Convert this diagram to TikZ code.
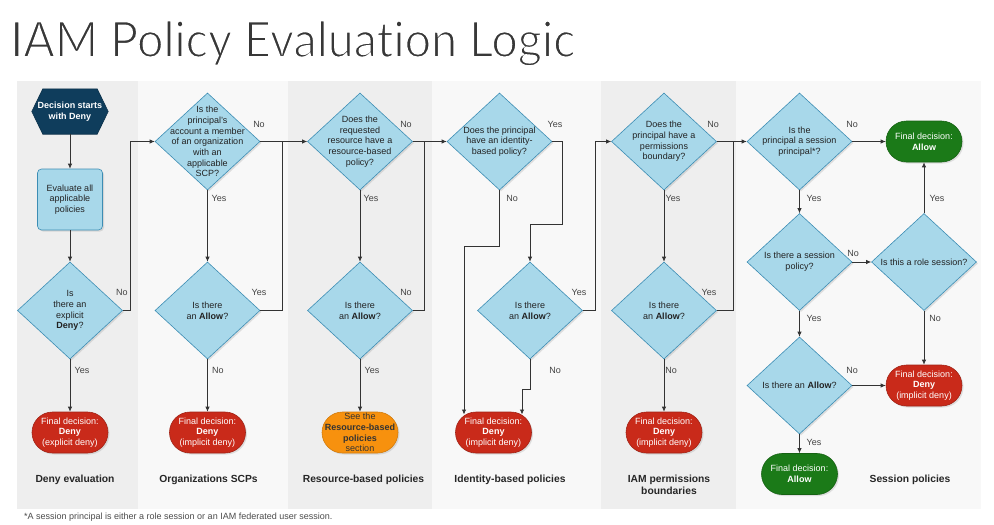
\documentclass[tikz,border=0pt]{standalone}
\usepackage{graphicx}
\usepackage{fontspec}
\setmainfont{Liberation Sans}
\newfontfamily\titlefont{Lato}[Ligatures={NoCommon}]
\usetikzlibrary{shapes.geometric,shapes.misc,arrows.meta,shadows,calc}
\definecolor{panelA}{HTML}{EEEEEE}
\definecolor{panelB}{HTML}{F8F8F8}
\definecolor{diafill}{HTML}{A8D8EA}
\definecolor{diaedge}{HTML}{3C8DB4}
\definecolor{navy}{HTML}{0F3D5C}
\definecolor{redf}{HTML}{C92A1A}
\definecolor{orangef}{HTML}{F7910E}
\definecolor{greenf}{HTML}{1B7A18}
\definecolor{linec}{HTML}{333333}
\definecolor{txt}{HTML}{222222}
\begin{document}
\begin{tikzpicture}[x=1pt,y=-1pt,
  every node/.style={font=\fontsize{9}{10.7}\selectfont, text=txt},
  shad/.style={drop shadow={opacity=0.22,shadow xshift=1.5pt,shadow yshift=-1.5pt}},
  dia/.style={diamond, draw=diaedge, fill=diafill, minimum width=105pt, minimum height=97pt, inner sep=0pt, line width=0.6pt, shad},
  dtext/.style={align=center, inner sep=0pt},
  final/.style={rounded rectangle, minimum width=76pt, minimum height=41pt, inner sep=0pt, line width=0.6pt, shad},
  redbox/.style={final, fill=redf, draw=redf!80!black},
  grnbox/.style={final, fill=greenf, draw=greenf!80!black},
  orgbox/.style={final, fill=orangef, draw=orangef!85!black},
  wtext/.style={align=center, inner sep=0pt, text=white},
  arr/.style={draw=linec, line width=0.8pt, -{Latex[length=5pt,width=4.5pt]}},
  ln/.style={draw=linec, line width=0.8pt},
  lab/.style={inner sep=0pt, text=txt!85},
  sec/.style={inner sep=0pt, align=center, font=\bfseries\fontsize{10.3}{12}\selectfont, text=black!85}
]
\useasboundingbox (0,0) rectangle (994,525);
\fill[white] (0,0) rectangle (994,525);
% panels
\fill[panelA] (17,81) rectangle (138,509);
\fill[panelB] (138,81) rectangle (288,509);
\fill[panelA] (288,81) rectangle (432,509);
\fill[panelB] (432,81) rectangle (601,509);
\fill[panelA] (601,81) rectangle (736,509);
\fill[panelB] (736,81) rectangle (981,509);

% title
\node[anchor=base west, inner sep=0pt, text=black!78] (title) at (10,57) {\resizebox{565pt}{36.5pt}{\fontsize{45}{50}\titlefont\special{pdf:literal direct 2 Tr 1 G 1.4 w}IAM Policy Evaluation Logic\special{pdf:literal direct 0 Tr}}};

% column 1
\node[inner sep=0pt, minimum width=76pt, minimum height=45pt] (hex) at (70,111.5) {};
\filldraw[fill=navy, draw=navy!80!black, line width=0.6pt] (hex.west) -- ($(hex.north west)+(11,0)$) -- ($(hex.north east)+(-11,0)$) -- (hex.east) -- ($(hex.south east)+(-11,0)$) -- ($(hex.south west)+(11,0)$) -- cycle;
\node[wtext, font=\bfseries\fontsize{9}{10.7}\selectfont] (hext) at (hex) {Decision starts\\with Deny};
\node[draw=diaedge, fill=diafill, rounded corners=4pt, minimum width=65pt, minimum height=61pt, align=center, inner sep=0pt, line width=0.6pt, shad] (eval) at (70,199.5) {Evaluate all\\applicable\\policies};
\node[dia] (c1) at (70,310.5) {};
\node[dtext] (c1t) at (c1) {Is\\there an\\explicit\\\textbf{Deny}?};
\node[redbox] (r1) at (70,432.5) {};
\node[wtext] (r1t) at (r1) {Final decision:\\\textbf{Deny}\\(explicit deny)};

% column 2
\node[dia] (c2a) at (207.5,141.5) {};
\node[dtext] (c2at) at (c2a) {Is the\\principal's\\account a member\\of an organization\\with an\\applicable\\SCP?};
\node[dia] (c2b) at (207.5,310.5) {};
\node[dtext] (c2bt) at (c2b) {Is there\\an \textbf{Allow}?};
\node[redbox] (r2) at (207.5,432.5) {};
\node[wtext] (r2t) at (r2) {Final decision:\\\textbf{Deny}\\(implicit deny)};

% column 3
\node[dia] (c3a) at (360,141.5) {};
\node[dtext] (c3at) at (c3a) {Does the\\requested\\resource have a\\resource-based\\policy?};
\node[dia] (c3b) at (360,310.5) {};
\node[dtext] (c3bt) at (c3b) {Is there\\an \textbf{Allow}?};
\node[orgbox] (o3) at (360,432.5) {};
\node[dtext, text=black!80] (o3t) at (o3) {See the\\\textbf{Resource-based}\\\textbf{policies}\\section};

% column 4
\node[dia] (c4a) at (499.5,141.5) {};
\node[dtext] (c4at) at (c4a) {Does the principal\\have an identity-\\based policy?};
\node[dia] (c4b) at (530,310.5) {};
\node[dtext] (c4bt) at (c4b) {Is there\\an \textbf{Allow}?};
\node[redbox] (r4) at (493.5,432.5) {};
\node[wtext] (r4t) at (r4) {Final decision:\\\textbf{Deny}\\(implicit deny)};

% column 5
\node[dia] (c5a) at (664,141.5) {};
\node[dtext] (c5at) at (c5a) {Does the\\principal have a\\permissions\\boundary?};
\node[dia] (c5b) at (664,310.5) {};
\node[dtext] (c5bt) at (c5b) {Is there\\an \textbf{Allow}?};
\node[redbox] (r5) at (664,432.5) {};
\node[wtext] (r5t) at (r5) {Final decision:\\\textbf{Deny}\\(implicit deny)};

% column 6
\node[dia] (c6a) at (799.5,141.5) {};
\node[dtext] (c6at) at (c6a) {Is the\\principal a session\\principal*?};
\node[grnbox] (g1) at (924,141.5) {};
\node[wtext] (g1t) at (g1) {Final decision:\\\textbf{Allow}};
\node[dia] (c6b) at (799.5,262) {};
\node[dtext] (c6bt) at (c6b) {Is there a session\\policy?};
\node[dia] (c6c) at (924,262) {};
\node[dtext] (c6ct) at (c6c) {Is this a role session?};
\node[dia] (c6d) at (799.5,385.5) {};
\node[dtext] (c6dt) at (c6d) {Is there an \textbf{Allow}?};
\node[redbox] (r6) at (924,385.5) {};
\node[wtext] (r6t) at (r6) {Final decision:\\\textbf{Deny}\\(implicit deny)};
\node[grnbox] (g2) at (799.5,474) {};
\node[wtext] (g2t) at (g2) {Final decision:\\\textbf{Allow}};

% junction coordinates
\coordinate (j2) at (282,141.5);
\coordinate (j3) at (424,141.5);
\coordinate (j5) at (733,141.5);
\coordinate (k1) at (562,224);
\coordinate (k2) at (464,246);
\coordinate (k3) at (464,414.5);
\coordinate (k4) at (522,389);
\coordinate (k5) at (522,414.5);

% connectors
\draw[arr] (hex.south) -- (eval.north);
\draw[arr] (eval.south) -- (c1.north);
\draw[arr] (c1.south) -- (r1.north);
\draw[arr] (c1.east) -- ++(7.5,0) |- (c2a.west);
\draw[arr] (c2a.south) -- (c2b.north);
\draw[arr] (c2b.south) -- (r2.north);
\draw[arr] (c2a.east) -- (c3a.west);
\draw[ln] (c2b.east) -| (j2);
\draw[arr] (c3a.south) -- (c3b.north);
\draw[arr] (c3b.south) -- (o3.north);
\draw[arr] (c3a.east) -- (c4a.west);
\draw[ln] (c3b.east) -| (j3);
\draw[arr] (c4a.east) -| (k1) -| (c4b.north);
\draw[arr] (c4a.south) |- (k2) -- (k3);
\draw[arr] (c4b.south) |- (k4) -- (k5);
\draw[arr] (c4b.east) -- ++(13,0) |- (c5a.west);
\draw[arr] (c5a.south) -- (c5b.north);
\draw[arr] (c5b.south) -- (r5.north);
\draw[arr] (c5a.east) -- (c6a.west);
\draw[ln] (c5b.east) -| (j5);
\draw[arr] (c6a.east) -- (g1.west);
\draw[arr] (c6a.south) -- (c6b.north);
\draw[arr] (c6b.east) -- (c6c.west);
\draw[arr] (c6b.south) -- (c6d.north);
\draw[arr] (c6c.north) -- (g1.south);
\draw[arr] (c6c.south) -- (r6.north);
\draw[arr] (c6d.east) -- (r6.west);
\draw[arr] (c6d.south) -- (g2.north);

% labels
\node[lab] (l1) at (122,292) {No};
\node[lab] (l2) at (82,370) {Yes};
\node[lab] (l3) at (259,124) {No};
\node[lab] (l4) at (219,198) {Yes};
\node[lab] (l5) at (259,292) {Yes};
\node[lab] (l6) at (218,370) {No};
\node[lab] (l7) at (406,124) {No};
\node[lab] (l8) at (371,198) {Yes};
\node[lab] (l9) at (406,292) {No};
\node[lab] (l10) at (372,370) {Yes};
\node[lab] (l11) at (555,124) {Yes};
\node[lab] (l12) at (512,198) {No};
\node[lab] (l13) at (579,292) {Yes};
\node[lab] (l14) at (555,370) {No};
\node[lab] (l15) at (713,124) {No};
\node[lab] (l16) at (673,198) {Yes};
\node[lab] (l17) at (709,292) {Yes};
\node[lab] (l18) at (671,370) {No};
\node[lab] (l19) at (852,124) {No};
\node[lab] (l20) at (814,198) {Yes};
\node[lab] (l21) at (853,253) {No};
\node[lab] (l22) at (814,318) {Yes};
\node[lab] (l23) at (937,198) {Yes};
\node[lab] (l24) at (935,318) {No};
\node[lab] (l25) at (852,370) {No};
\node[lab] (l26) at (814,442) {Yes};

% section labels
\node[sec] (s1) at (75,480) {Deny evaluation};
\node[sec] (s2) at (208.5,480) {Organizations SCPs};
\node[sec] (s3) at (363.5,480) {Resource-based policies};
\node[sec] (s4) at (510,480) {Identity-based policies};
\node[sec, anchor=north] (s5) at (669,475) {IAM permissions\\boundaries};
\node[sec] (s6) at (910,480) {Session policies};

% footnote
\node[anchor=west, inner sep=0pt, font=\fontsize{9}{10}\selectfont, text=black!70] (foot) at (24,517) {*A session principal is either a role session or an IAM federated user session.};
\end{tikzpicture}
\end{document}
